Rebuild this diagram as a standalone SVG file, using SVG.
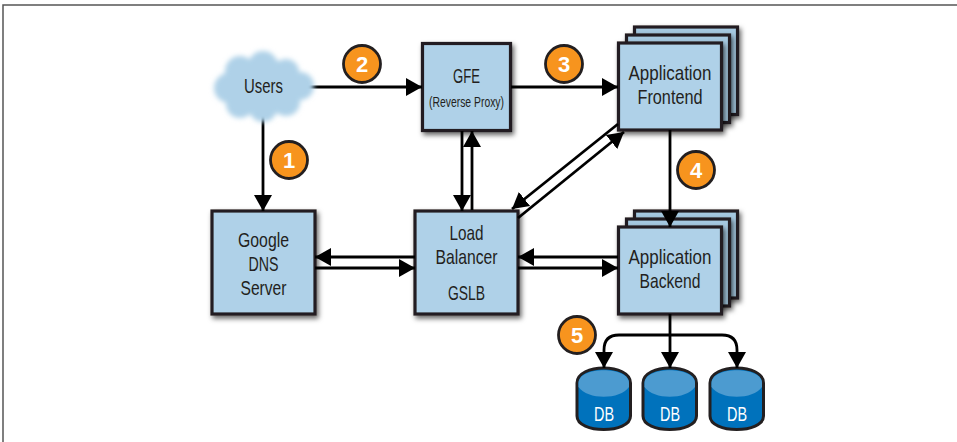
<svg xmlns="http://www.w3.org/2000/svg" width="957" height="442" viewBox="0 0 957 442">
<style>
text{font-family:"Liberation Sans",Arial,sans-serif;fill:#231f20;text-anchor:middle;font-size:20.800px}
.box{fill:#afd1e8;stroke:#231f20;stroke-width:3.2}
.back{fill:#a6c9e1;stroke:#231f20;stroke-width:3.2}
.c{fill:none;stroke:#000;stroke-width:2.8}
.num{fill:#f7941e;stroke:#231f20;stroke-width:2.8}
.n{fill:#fff;font-weight:700;font-size:22px}
.db{fill:#0072bc;stroke:#231f20;stroke-width:3}
.dbt{fill:#4c9bd0}
.dl{fill:#fff;font-size:20.800px}
</style>
<defs>
<marker id="a" markerUnits="userSpaceOnUse" markerWidth="17" markerHeight="20" refX="16" refY="10" orient="auto"><path d="M0 1L16 10L0 19z" fill="#000"/></marker>
<filter id="s" x="-15%" y="-15%" width="135%" height="135%"><feDropShadow dx="2" dy="3" stdDeviation="2.500" flood-color="#000" flood-opacity=".6"/></filter>
<filter id="b" x="-15%" y="-15%" width="130%" height="130%"><feGaussianBlur stdDeviation="2.500"/></filter>
</defs>
<path d="M3 442V5H957" fill="none" stroke="#555" stroke-width="1.500"/>
<g id="gfe">
<rect class="box" x="422.500" y="43.500" width="88" height="87" filter="url(#s)"/>
<text x="466.500" y="83" textLength="27" lengthAdjust="spacingAndGlyphs">GFE</text>
<text x="466.500" y="107" style="font-size:14px" textLength="75" lengthAdjust="spacingAndGlyphs">(Reverse Proxy)</text>
</g>
<g id="frontend">
<rect class="back" x="634.500" y="27" width="103" height="87.500" filter="url(#s)"/>
<rect class="back" x="626.500" y="35" width="103" height="87.500" filter="url(#s)"/>
<rect class="box" x="618.500" y="43" width="103" height="87" filter="url(#s)"/>
<text x="670" y="80" textLength="83" lengthAdjust="spacingAndGlyphs">Application</text>
<text x="670" y="104" textLength="65" lengthAdjust="spacingAndGlyphs">Frontend</text>
</g>
<g id="dns">
<rect class="box" x="212" y="211" width="103" height="103" filter="url(#s)"/>
<text x="263.500" y="247" textLength="51" lengthAdjust="spacingAndGlyphs">Google</text>
<text x="263.500" y="271" textLength="30" lengthAdjust="spacingAndGlyphs">DNS</text>
<text x="263.500" y="295" textLength="46" lengthAdjust="spacingAndGlyphs">Server</text>
</g>
<g id="lb">
<rect class="box" x="415" y="211" width="103" height="103" filter="url(#s)"/>
<text x="466.500" y="240" textLength="34" lengthAdjust="spacingAndGlyphs">Load</text>
<text x="466.500" y="264" textLength="62" lengthAdjust="spacingAndGlyphs">Balancer</text>
<text x="466.500" y="300" textLength="37" lengthAdjust="spacingAndGlyphs">GSLB</text>
</g>
<g id="backend">
<rect class="back" x="634.500" y="211" width="103" height="87" filter="url(#s)"/>
<rect class="back" x="626.500" y="219" width="103" height="87" filter="url(#s)"/>
<rect class="box" x="618.500" y="227" width="103" height="87" filter="url(#s)"/>
<text x="670" y="264" textLength="83" lengthAdjust="spacingAndGlyphs">Application</text>
<text x="670" y="288" textLength="61" lengthAdjust="spacingAndGlyphs">Backend</text>
</g>
<g id="db1">
<path class="db" d="M577 383C577 363 630.500 363 630.500 383V416C630.500 434 577 434 577 416Z"/>
<path class="dbt" d="M578.500 383C578.500 366 629 366 629 383V387C620 400 587.500 400 578.500 387Z"/>
<text class="dl" x="604" y="421" textLength="20" lengthAdjust="spacingAndGlyphs">DB</text>
</g>
<g id="db2">
<path class="db" d="M643 383C643 363 696.500 363 696.500 383V416C696.500 434 643 434 643 416Z"/>
<path class="dbt" d="M644.500 383C644.500 366 695 366 695 383V387C686 400 653.500 400 644.500 387Z"/>
<text class="dl" x="670" y="421" textLength="20" lengthAdjust="spacingAndGlyphs">DB</text>
</g>
<g id="db3">
<path class="db" d="M710 383C710 363 763.500 363 763.500 383V416C763.500 434 710 434 710 416Z"/>
<path class="dbt" d="M711.500 383C711.500 366 762 366 762 383V387C753 400 720.500 400 711.500 387Z"/>
<text class="dl" x="737" y="421" textLength="20" lengthAdjust="spacingAndGlyphs">DB</text>
</g>
<g id="connectors">
<path class="c" d="M300 87H422" marker-end="url(#a)"/>
<path class="c" d="M263 105V211" marker-end="url(#a)"/>
<path class="c" d="M511 87H618" marker-end="url(#a)"/>
<path class="c" d="M462 131V211" marker-end="url(#a)"/>
<path class="c" d="M472 210V131" marker-end="url(#a)"/>
<path class="c" d="M618 124L512 209" marker-end="url(#a)"/>
<path class="c" d="M518 218L624 132" marker-end="url(#a)"/>
<path class="c" d="M415 257H315" marker-end="url(#a)"/>
<path class="c" d="M315 268H415" marker-end="url(#a)"/>
<path class="c" d="M618 257H518" marker-end="url(#a)"/>
<path class="c" d="M518 268H618" marker-end="url(#a)"/>
<path class="c" d="M670 130V227" marker-end="url(#a)"/>
<path class="c" d="M670 314V368" marker-end="url(#a)"/>
<path class="c" d="M670 335H619Q604 335 604 350V368" marker-end="url(#a)"/>
<path class="c" d="M670 335H722Q737 335 737 350V368" marker-end="url(#a)"/>
</g>
<g id="users">
<g fill="#afd1e8" filter="url(#b)">
<ellipse cx="263" cy="87" rx="42" ry="28"/>
<circle cx="229" cy="88" r="15"/><circle cx="240" cy="71" r="15"/><circle cx="263" cy="66" r="15"/><circle cx="286" cy="72" r="13"/><circle cx="300" cy="86" r="14"/><circle cx="286" cy="102" r="14"/><circle cx="263" cy="108" r="14"/><circle cx="240" cy="104" r="14"/>
</g>
<text x="263.500" y="93" textLength="39" lengthAdjust="spacingAndGlyphs">Users</text>
</g>
<g id="badge1"><circle class="num" cx="289" cy="160" r="18.500"/><text class="n" x="289" y="168">1</text></g>
<g id="badge2"><circle class="num" cx="362" cy="64" r="18.500"/><text class="n" x="362" y="72">2</text></g>
<g id="badge3"><circle class="num" cx="564" cy="64" r="18.500"/><text class="n" x="564" y="72">3</text></g>
<g id="badge4"><circle class="num" cx="696" cy="170" r="18.500"/><text class="n" x="696" y="178">4</text></g>
<g id="badge5"><circle class="num" cx="577" cy="335" r="18.500"/><text class="n" x="577" y="343">5</text></g>
</svg>
